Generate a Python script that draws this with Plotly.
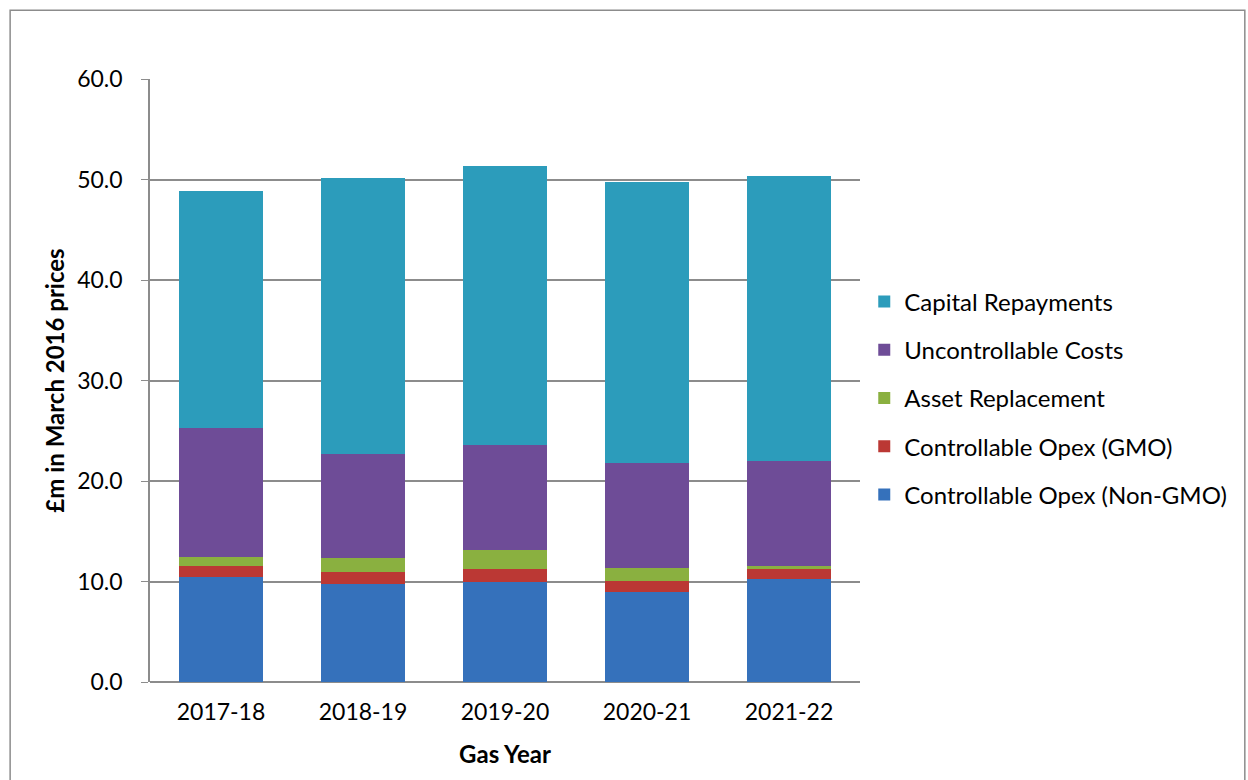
import plotly.graph_objects as go

years = ["2017-18", "2018-19", "2019-20", "2020-21", "2021-22"]
non_gmo = [10.4, 9.8, 10.0, 9.0, 10.2]
gmo = [1.1, 1.1, 1.2, 1.1, 1.0]
asset = [0.9, 1.4, 1.9, 1.2, 0.3]
uncontrollable = [12.9, 10.4, 10.5, 10.5, 10.5]
capital = [23.6, 27.4, 27.7, 28.0, 28.3]

series = [
    ("Controllable Opex (Non-GMO)", non_gmo, "#3571bb"),
    ("Controllable Opex (GMO)", gmo, "#bb3834"),
    ("Asset Replacement", asset, "#8ab040"),
    ("Uncontrollable Costs", uncontrollable, "#6e4c97"),
    ("Capital Repayments", capital, "#2c9cbb"),
]

font = "Lato"
fig = go.Figure()
for i, (name, vals, col) in enumerate(series):
    fig.add_trace(go.Bar(x=years, y=vals, name=name, marker=dict(color=col, line=dict(width=0)),
                         legendgroup=name, legendrank=100 - i))

fig.update_layout(
    barmode="stack",
    bargap=0.415,
    width=1248, height=780,
    margin=dict(l=150, r=388, t=79, b=98),
    paper_bgcolor="white", plot_bgcolor="white",
    font=dict(family=font, color="black"),
    showlegend=True,
    legend=dict(x=1.006, y=0.471, xanchor="left", yanchor="middle",
                traceorder="grouped", tracegroupgap=14,
                font=dict(size=24, family=font), itemwidth=30),
    xaxis=dict(showline=False, ticks="", tickfont=dict(size=23, family=font), ticklabelstandoff=14,
               title=dict(text="<b>Gas Year</b>", font=dict(size=24, family=font), standoff=22)),
    yaxis=dict(range=[0, 60], dtick=10, tickformat=".1f", showgrid=True,
               gridcolor="#8c8c8c", gridwidth=1.5, zeroline=True, zerolinecolor="#8c8c8c",
               zerolinewidth=1.5, showline=True, linecolor="#8c8c8c", linewidth=1.5,
               ticks="outside", ticklen=7, tickcolor="#8c8c8c",
               tickfont=dict(size=23, family=font), ticklabelstandoff=14,
               title=dict(text="<b>£m in March 2016 prices</b>", font=dict(size=24, family=font), standoff=6)),
    shapes=[dict(type="rect", xref="paper", yref="paper", x0=-0.197, x1=1.542, y0=-0.2, y1=1.114,
                 line=dict(color="#8c8c8c", width=1.5), fillcolor="rgba(0,0,0,0)", layer="below")],
)

fig.write_html("out.html")
